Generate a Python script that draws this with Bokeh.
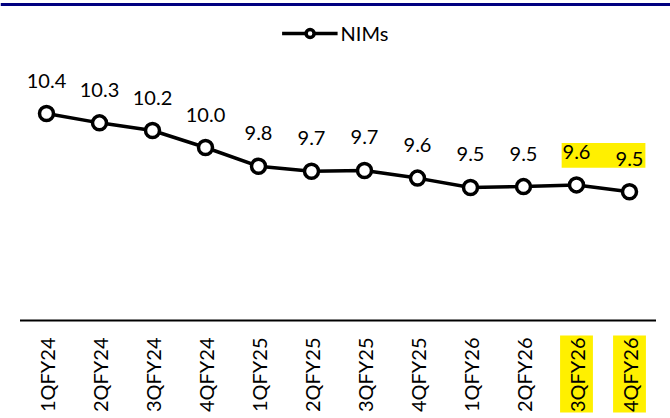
import math
from bokeh.plotting import figure
from bokeh.models import Range1d, Legend, LegendItem, Span
from bokeh.core.properties import value
from bokeh.embed import file_html
from bokeh.resources import INLINE

# ---- data ----
quarters = ["1QFY24", "2QFY24", "3QFY24", "4QFY24", "1QFY25", "2QFY25",
            "3QFY25", "4QFY25", "1QFY26", "2QFY26", "3QFY26", "4QFY26"]
nims = [10.40, 10.29, 10.20, 10.00, 9.78, 9.72, 9.73, 9.64, 9.53, 9.54, 9.56, 9.48]
highlighted = ["3QFY26", "4QFY26"]
series_name = "NIMs"

# ---- layout helpers ----
W, H = 670, 418
PX_PER_UNIT = 85.0
FIRST_PT_Y = 113.0     # px of first point
FIRST_PT_X = 46.0      # px of first category
STEP = 53.0            # px between categories
AXIS_Y = 320           # px of the category axis line


def val_at(fy):
    return nims[0] - (fy - FIRST_PT_Y) / PX_PER_UNIT


def idx_at(fx):
    return (fx - FIRST_PT_X) / STEP


idx = list(range(len(quarters)))
labels = [f"{v:.1f}" for v in nims]
FONT = "Lato"
FSIZE = "20px"
YELLOW = "#FFF000"
axis_val = val_at(AXIS_Y)

p = figure(frame_width=W, frame_height=H,
           x_range=Range1d(idx_at(0), idx_at(W)),
           y_range=Range1d(val_at(H), val_at(0)),
           x_axis_location=None, y_axis_location=None,
           output_backend="svg", toolbar_location=None,
           min_border_left=0, min_border_right=0, min_border_top=0,
           min_border_bottom=0)
p.outline_line_color = None
p.grid.visible = False
p.background_fill_color = "white"
p.border_fill_color = "white"

# top navy rule
p.add_layout(Span(location=val_at(4), dimension="width",
                  line_color="#000080", line_width=3))

# highlight box behind last data labels
hl_idx = [quarters.index(q) for q in highlighted]
hl_vals = [nims[i] for i in hl_idx]
p.quad(left=[min(hl_idx) - 0.28], right=[max(hl_idx) + 0.30],
       top=[max(hl_vals) + 42 / PX_PER_UNIT],
       bottom=[min(hl_vals) + 24 / PX_PER_UNIT],
       fill_color=YELLOW, line_color=None)
# highlight boxes behind category labels
p.quad(left=[i - 0.31 for i in hl_idx], right=[i + 0.31 for i in hl_idx],
       top=[axis_val - 15 / PX_PER_UNIT] * len(hl_idx),
       bottom=[axis_val - 92 / PX_PER_UNIT] * len(hl_idx),
       fill_color=YELLOW, line_color=None)

# category axis line and labels
p.segment(x0=[-0.5], x1=[len(quarters) - 0.5],
          y0=[axis_val], y1=[axis_val],
          line_color="black", line_width=2)
p.text(x=idx, y=[axis_val] * len(idx), text=quarters, y_offset=17,
       angle=math.pi / 2, text_align="right", text_baseline="middle",
       text_font=value(FONT), text_font_size=FSIZE, text_color="black")

ln = p.line(idx, nims, line_color="black", line_width=3.5)
sc = p.scatter(idx, nims, size=14, fill_color="white",
               line_color="black", line_width=3.5)

p.text(x=idx, y=nims, text=labels, y_offset=-33,
       text_align="center", text_baseline="middle",
       text_font=value(FONT), text_font_size=FSIZE, text_color="black")

legend = Legend(items=[LegendItem(label=series_name, renderers=[ln, sc])],
                location="top_center", orientation="horizontal",
                glyph_width=56, glyph_height=20, label_standoff=3,
                padding=0, margin=21, border_line_color=None,
                background_fill_alpha=0,
                label_text_font=FONT, label_text_font_size=FSIZE,
                label_text_color="black")
p.add_layout(legend)

open("out.html", "w").write(file_html(p, INLINE))
